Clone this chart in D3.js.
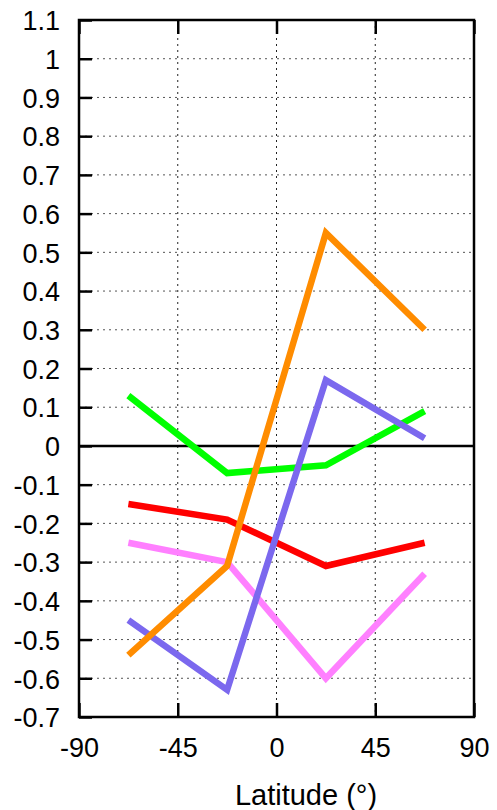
<!DOCTYPE html>
<html>
<head>
<meta charset="utf-8">
<script src="https://cdn.jsdelivr.net/npm/d3@7"></script>
<style>
  body { margin: 0; background: #fff; }
  text { font-family: "Liberation Sans", Arial, Helvetica, sans-serif; fill: #000; }
</style>
</head>
<body>
<svg id="chart" width="497" height="810"></svg>
<script>
// latitude bands (deg) shared by all series
const lats = [-67.5, -22.5, 22.5, 67.5];

const orangeVals = [-0.54, -0.31, 0.55, 0.30];
const blueVals = [-0.45, -0.63, 0.17, 0.02];
const greenVals = [0.13, -0.07, -0.05, 0.09];
const redVals = [-0.15, -0.19, -0.31, -0.25];
const pinkVals = [-0.25, -0.30, -0.60, -0.33];

const xTicks = [-90, -45, 0, 45, 90];
const yTicks = d3.range(-7, 12).map(d => d / 10);

const series = [
  { name: 'red', values: redVals, color: '#ff0000' },
  { name: 'pink', values: pinkVals, color: '#ff80ff' },
  { name: 'green', values: greenVals, color: '#00ff00' },
  { name: 'blue', values: blueVals, color: '#7b68ee' },
  { name: 'orange', values: orangeVals, color: '#ff8c00' },
];

const mLeft = 79, mRight = 474, mTop = 20, mBottom = 717;

const svg = d3.select('#chart');

const x = d3.scaleLinear().domain([-90, 90]).range([mLeft, mRight]);
const y = d3.scaleLinear().domain([-0.7, 1.1]).range([mBottom, mTop]);

// grid
const grid = svg.append('g');
grid.selectAll('line.h')
  .data(yTicks.filter(d => d > -0.7 && d < 1.1))
  .enter()
  .append('line')
  .attr('x1', mLeft).attr('x2', mRight)
  .attr('y1', d => y(d)).attr('y2', d => y(d))
  .attr('stroke', '#555')
  .attr('stroke-width', 1)
  .attr('stroke-dasharray', '2,4');
grid.selectAll('line.v')
  .data(xTicks.filter(d => d > -90 && d < 90))
  .enter()
  .append('line')
  .attr('x1', d => x(d)).attr('x2', d => x(d))
  .attr('y1', mTop).attr('y2', mBottom)
  .attr('stroke', '#222')
  .attr('stroke-width', 1)
  .attr('stroke-dasharray', '2,4');

// zero line
svg.append('line')
  .attr('x1', mLeft).attr('x2', mRight)
  .attr('y1', y(0)).attr('y2', y(0))
  .attr('stroke', '#000')
  .attr('stroke-width', 2.5);

// data
const line = d3.line()
  .x((d, i) => x(lats[i]))
  .y(d => y(d));

svg.append('g')
  .selectAll('path')
  .data(series)
  .enter()
  .append('path')
  .attr('d', d => line(d.values))
  .attr('fill', 'none')
  .attr('stroke', d => d.color)
  .attr('stroke-width', 6.5)
  .attr('stroke-linejoin', 'miter');

// ticks pointing inwards, plain hyphen for negatives like the original
const yAxis = d3.axisLeft(y).tickValues(yTicks).tickSize(-13).tickFormat(d => String(d));
const gy = svg.append('g').attr('transform', `translate(${mLeft},0)`).call(yAxis);
gy.select('.domain').remove();
gy.selectAll('.tick line').attr('stroke', '#000').attr('stroke-width', 2.5);
gy.selectAll('.tick text')
  .attr('x', -19)
  .attr('dy', '0.36em')
  .style('font-size', '27px')
  .attr('fill', '#000');

const xAxis = d3.axisBottom(x).tickValues(xTicks).tickSize(-14).tickFormat(d => String(d));
const gx = svg.append('g').attr('transform', `translate(0,${mBottom})`).call(xAxis);
gx.select('.domain').remove();
gx.selectAll('.tick line').attr('stroke', '#000').attr('stroke-width', 2.5);
gx.selectAll('.tick text')
  .attr('y', 40)
  .attr('dy', 0)
  .style('font-size', '27px')
  .attr('fill', '#000');

const xTop = d3.axisTop(x).tickValues(xTicks).tickSize(-14).tickFormat('');
const gt = svg.append('g').attr('transform', `translate(0,${mTop})`).call(xTop);
gt.select('.domain').remove();
gt.selectAll('.tick line').attr('stroke', '#000').attr('stroke-width', 2.5);

// frame
svg.append('rect')
  .attr('x', mLeft).attr('y', mTop)
  .attr('width', mRight - mLeft).attr('height', mBottom - mTop)
  .attr('fill', 'none')
  .attr('stroke', '#000')
  .attr('stroke-width', 2.5);

svg.append('text')
  .attr('x', 306)
  .attr('y', 805)
  .attr('text-anchor', 'middle')
  .style('font-size', '29px')
  .text('Latitude (°)');
</script>
</body>
</html>
